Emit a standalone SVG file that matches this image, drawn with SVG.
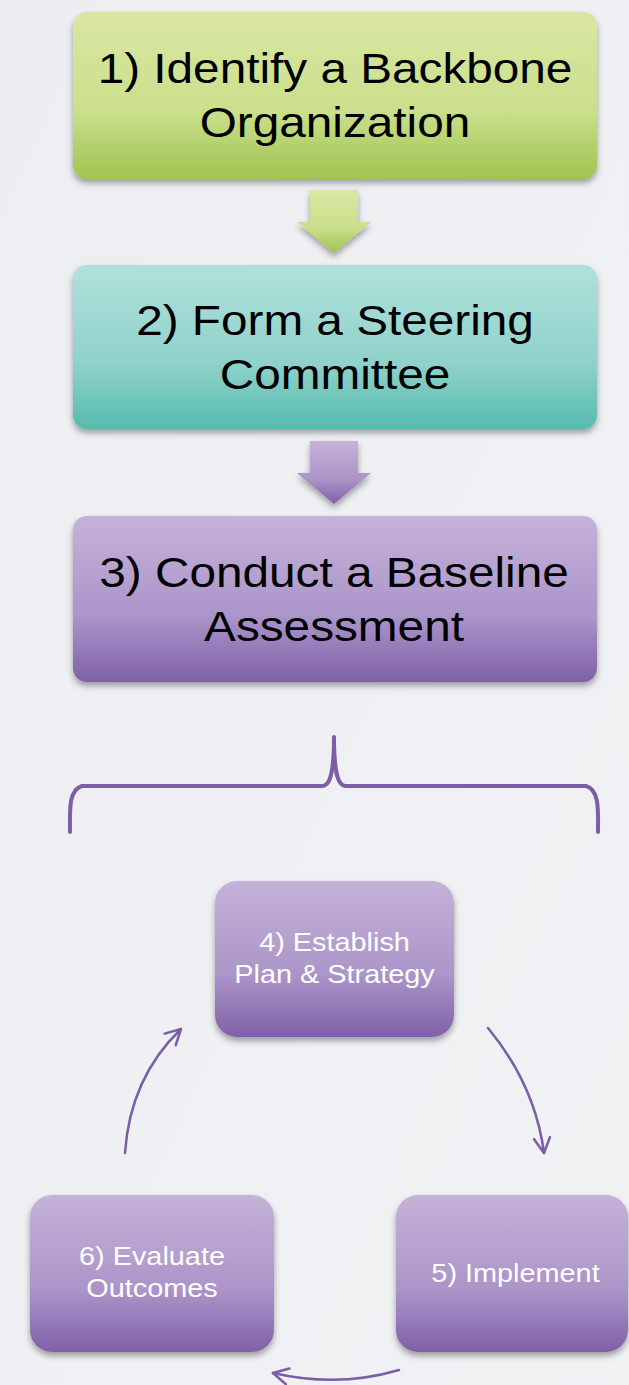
<svg xmlns="http://www.w3.org/2000/svg" width="629" height="1385" viewBox="0 0 629 1385">
<defs>
<style>
.big{font-family:"Liberation Sans",Arial,Helvetica,sans-serif;font-size:43px;fill:#000;text-anchor:middle}
.small{font-family:"Liberation Sans",Arial,Helvetica,sans-serif;font-size:26px;fill:#fff;text-anchor:middle}
.cyc{fill:none;stroke:#7b5ea7;stroke-width:2.5;stroke-linecap:round;marker-end:url(#head)}
</style>
<linearGradient id="gGreen" x1="0" y1="0" x2="0" y2="1">
<stop offset="0" stop-color="#dae7a4"/><stop offset="0.6" stop-color="#cadf8a"/><stop offset="1" stop-color="#9fc351"/>
</linearGradient>
<linearGradient id="gTeal" x1="0" y1="0" x2="0" y2="1">
<stop offset="0" stop-color="#b1e0dc"/><stop offset="0.6" stop-color="#8fd2ca"/><stop offset="1" stop-color="#56bbae"/>
</linearGradient>
<linearGradient id="gPurple" x1="0" y1="0" x2="0" y2="1">
<stop offset="0" stop-color="#c5b2d8"/><stop offset="0.6" stop-color="#ab95c9"/><stop offset="1" stop-color="#7f60a8"/>
</linearGradient>
<linearGradient id="gBg" x1="0" y1="0" x2="1" y2="1">
<stop offset="0" stop-color="#eceef1"/><stop offset="1" stop-color="#f1f2f4"/>
</linearGradient>
<filter id="sh" x="-10%" y="-10%" width="120%" height="130%">
<feDropShadow dx="0" dy="4" stdDeviation="3" flood-color="#000" flood-opacity="0.35"/>
</filter>
<marker id="head" viewBox="0 0 20 20" refX="17" refY="10" markerWidth="20" markerHeight="20" markerUnits="userSpaceOnUse" orient="auto">
<path d="M2,2 L17,10 L2,18" fill="none" stroke="#7b5ea7" stroke-width="2.5" stroke-linecap="round" stroke-linejoin="round"/>
</marker>
</defs>
<rect x="0" y="0" width="629" height="1385" fill="url(#gBg)"/>

<g id="node1">
<rect x="73" y="12" width="524" height="167" rx="14" fill="url(#gGreen)" filter="url(#sh)"/>
<text class="big" transform="translate(335,83) scale(1.11,1)">1) Identify a Backbone</text>
<text class="big" transform="translate(335,137) scale(1.11,1)">Organization</text>
</g>

<g id="node2">
<rect x="73" y="265" width="524" height="164" rx="14" fill="url(#gTeal)" filter="url(#sh)"/>
<text class="big" transform="translate(335,335) scale(1.11,1)">2) Form a Steering</text>
<text class="big" transform="translate(335,389) scale(1.11,1)">Committee</text>
</g>

<g id="node3">
<rect x="73" y="516" width="524" height="166" rx="14" fill="url(#gPurple)" filter="url(#sh)"/>
<text class="big" transform="translate(334,587) scale(1.11,1)">3) Conduct a Baseline</text>
<text class="big" transform="translate(334,641) scale(1.11,1)">Assessment</text>
</g>

<g id="node4">
<rect x="215" y="881" width="239" height="156" rx="22" fill="url(#gPurple)" filter="url(#sh)"/>
<text class="small" transform="translate(334.5,951) scale(1.11,1)">4) Establish</text>
<text class="small" transform="translate(334.5,983) scale(1.11,1)">Plan &amp; Strategy</text>
</g>

<g id="node5">
<rect x="396" y="1195" width="232" height="157" rx="22" fill="url(#gPurple)" filter="url(#sh)"/>
<text class="small" transform="translate(515.5,1282) scale(1.11,1)">5) Implement</text>
</g>

<g id="node6">
<rect x="30" y="1195" width="244" height="157" rx="22" fill="url(#gPurple)" filter="url(#sh)"/>
<text class="small" transform="translate(152,1265) scale(1.11,1)">6) Evaluate</text>
<text class="small" transform="translate(152,1297) scale(1.11,1)">Outcomes</text>
</g>

<g id="connectors">
<path d="M310,190 L358,190 L358,222 L371,222 L334,253 L297,222 L310,222 Z" fill="url(#gGreen)" filter="url(#sh)"/>
<path d="M310,441 L358,441 L358,473 L371,473 L334,504 L297,473 L310,473 Z" fill="url(#gPurple)" filter="url(#sh)"/>
<path d="M70,832 C70,812 68,790 82,786 L322,786 C331,786 334,770 334,737 C334,770 337,786 346,786 L586,786 C600,790 598,812 598,832" fill="none" stroke="#7b5ea7" stroke-width="4" stroke-linecap="round" stroke-linejoin="round"/>
<path class="cyc" d="M488,1028 Q535,1085 544,1153"/>
<path class="cyc" d="M399,1370 Q338,1388 273,1373"/>
<path class="cyc" d="M125,1153 Q130,1078 181,1029"/>
</g>
</svg>
